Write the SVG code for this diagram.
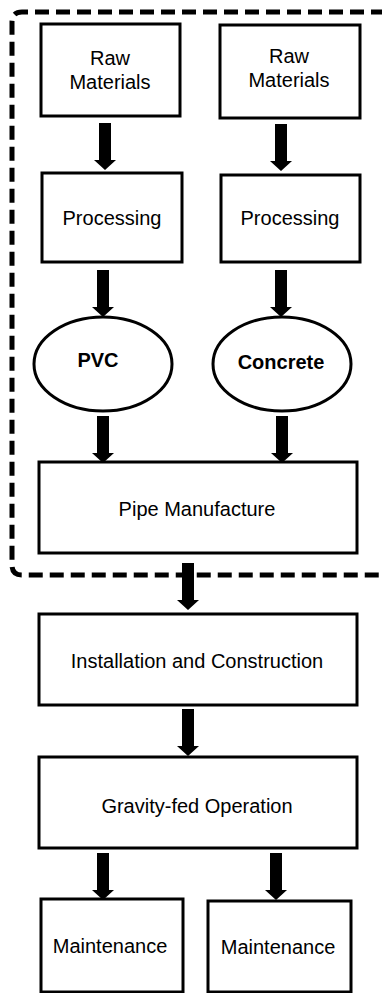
<svg xmlns="http://www.w3.org/2000/svg" width="382" height="993" viewBox="0 0 382 993">
<defs>
<style>
.box{fill:#fff;stroke:#000;stroke-width:3}
.t{font-family:"Liberation Sans",Arial,sans-serif;font-size:20px;fill:#000;text-anchor:middle}
.b{font-weight:bold}
.arr{fill:#000}
.dash{fill:none;stroke:#000;stroke-width:5;stroke-dasharray:14 7;stroke-linecap:butt}
</style>
<path id="arrow" d="M-6,0 H6 V37 H11 L0,47 L-11,37 H-6 Z"/>
</defs>
<rect width="382" height="993" fill="#fff"/>
<path class="dash" d="M385,12 H22 Q12,12 12,22 V565 Q12,575 22,575 H385"/>
<g id="connectors" class="arr">
<use href="#arrow" x="105" y="123"/>
<use href="#arrow" x="281" y="124"/>
<use href="#arrow" x="103" y="270"/>
<use href="#arrow" x="281" y="270"/>
<use href="#arrow" x="103" y="416"/>
<use href="#arrow" x="282" y="416"/>
<use href="#arrow" x="188" y="563"/>
<use href="#arrow" x="188" y="709"/>
<use href="#arrow" x="103" y="853"/>
<use href="#arrow" x="276" y="853"/>
</g>
<g id="raw1"><rect class="box" x="41" y="24" width="139" height="92"/><text class="t" x="110" y="65">Raw</text><text class="t" x="110" y="89">Materials</text></g>
<g id="raw2"><rect class="box" x="220" y="25" width="140" height="93"/><text class="t" x="289" y="63">Raw</text><text class="t" x="289" y="87">Materials</text></g>
<g id="proc1"><rect class="box" x="42" y="173" width="140" height="89"/><text class="t" x="112" y="225">Processing</text></g>
<g id="proc2"><rect class="box" x="221" y="175" width="139" height="87"/><text class="t" x="290" y="225">Processing</text></g>
<g id="pvc"><ellipse class="box" cx="103" cy="364" rx="69" ry="47"/><text class="t b" x="98" y="367">PVC</text></g>
<g id="concrete"><ellipse class="box" cx="282" cy="364" rx="69" ry="47"/><text class="t b" x="281" y="369" font-size="19">Concrete</text></g>
<g id="pipe"><rect class="box" x="39" y="462" width="318" height="91"/><text class="t" x="197" y="516">Pipe Manufacture</text></g>
<g id="install"><rect class="box" x="39" y="614" width="318" height="91"/><text class="t" x="197" y="668">Installation and Construction</text></g>
<g id="gravity"><rect class="box" x="39" y="757" width="318" height="91"/><text class="t" x="197" y="813">Gravity-fed Operation</text></g>
<g id="maint1"><rect class="box" x="41" y="899" width="142" height="93"/><text class="t" x="110" y="953">Maintenance</text></g>
<g id="maint2"><rect class="box" x="208" y="901" width="143" height="91"/><text class="t" x="278" y="954">Maintenance</text></g>
</svg>
